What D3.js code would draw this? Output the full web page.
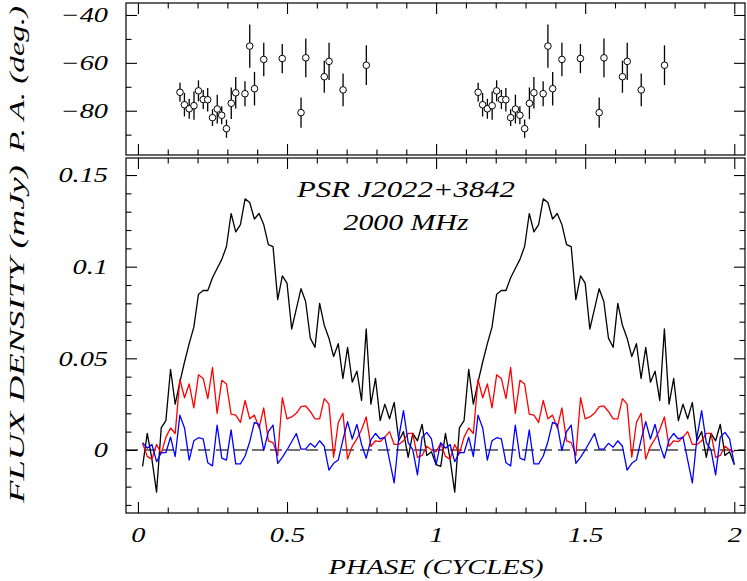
<!DOCTYPE html>
<html><head><meta charset="utf-8">
<script src="https://cdn.jsdelivr.net/npm/d3@7"></script>
<style>
body{margin:0;background:#fff}
svg{display:block}
text{font-family:"Liberation Serif",serif;font-style:italic;fill:#000}
</style>
</head><body>
<svg id="c" width="747" height="581"></svg>
<script>
// ---------------- data (one pulse period, 64 bins; plotted twice) ----------------
const binPhase = [0.0156,0.0313,0.0469,0.0625,0.0781,0.0938,0.1094,0.125,0.1406,0.1563,0.1719,0.1875,0.2031,0.2188,0.2344,0.25,
  0.2656,0.2813,0.2969,0.3125,0.3281,0.3438,0.3594,0.375,0.3906,0.4063,0.4219,0.4375,0.4531,0.4688,0.4844,0.5,
  0.5156,0.5313,0.5469,0.5625,0.5781,0.5938,0.6094,0.625,0.6406,0.6563,0.6719,0.6875,0.7031,0.7188,0.7344,0.75,
  0.7656,0.7813,0.7969,0.8125,0.8281,0.8438,0.8594,0.875,0.8906,0.9063,0.9219,0.9375,0.9531,0.9688,0.9844,1.0];
const totalI = [-0.009,0.009,-0.005,-0.023,0.012,0.016,0.044,0.025,0.037,0.048,0.058,0.067,0.085,0.087,0.087,0.094,
  0.099,0.104,0.111,0.129,0.119,0.123,0.137,0.135,0.126,0.129,0.123,0.112,0.111,0.082,0.095,0.091,
  0.066,0.077,0.088,0.081,0.061,0.056,0.080,0.068,0.061,0.051,0.058,0.039,0.056,0.037,0.043,0.027,
  0.066,0.025,0.039,0.016,0.025,0.017,0.026,0.005,0.010,-0.004,0.009,0.005,0.014,-0.003,-0.001,-0.008];
const linearL = [0.0036,-0.0035,-0.005,0.003,-0.002,0.007,0.012,0.009,0.0385,0.0285,0.036,0.023,0.041,0.039,0.028,0.045,
  0.020,0.038,0.036,0.0196,0.019,0.015,0.027,0.017,0.019,0.012,0.023,0.005,0.004,-0.003,0.0285,0.017,
  0.018,0.020,0.0236,0.024,0.021,0.017,0.017,0.028,0.025,-0.004,0.015,0.020,-0.005,0.002,0.006,0.011,
  0.018,0.002,0.005,0.0045,0.007,0.010,0.003,0.003,0.005,0.009,0.009,-0.004,-0.003,0.002,0.0,-0.001];
const circularV = [0.004,0.001,0.003,-0.0064,-0.0015,-0.0015,0.007,-0.0036,0.019,0.012,-0.0055,0.005,0.0067,0.006,-0.007,-0.0087,
  0.0136,-0.0045,-0.0055,0.011,-0.0076,-0.0076,-0.0033,0.0045,0.015,0.014,-0.0004,0.010,0.0136,-0.0073,-0.004,0.0,
  0.0045,0.009,0.0004,0.0004,0.0036,0.0015,0.005,0.002,-0.011,-0.0073,-0.0055,0.0055,0.0155,0.006,0.014,0.003,
  -0.0045,0.0055,0.009,0.006,0.007,-0.0055,-0.018,0.007,0.0215,0.004,0.0,-0.0136,0.007,0.0096,0.006,-0.008];
const paPhase = [0.141,0.156,0.172,0.188,0.203,0.219,0.234,0.25,0.266,0.281,0.297,0.313,0.328,0.359,0.375,0.391,0.422,0.484,0.547,0.563,0.625,0.641,0.688,0.766];
const paDeg = [-72.3,-77.5,-79.2,-77.9,-71.7,-75.3,-75.4,-82.9,-79.3,-81.9,-87.5,-76.9,-72.5,-72.9,-53.0,-70.8,-58.6,-58.2,-80.8,-57.9,-65.8,-59.4,-71.3,-61.0];
const paErr = [4.0,4.9,4.2,5.9,4.4,4.0,4.9,3.5,6.0,3.8,3.8,6.6,6.6,5.2,9.0,7.0,7.0,6.1,6.3,8.1,6.7,7.8,6.8,8.3];
const cycles = [0,1];

const xTicks = [0,0.5,1,1.5,2];
const xTickLabels = ["0","0.5","1","1.5","2"];
const xMinor = [0.1,0.2,0.3,0.4,0.6,0.7,0.8,0.9,1.1,1.2,1.3,1.4,1.6,1.7,1.8,1.9];
const fluxTicks = [0,0.05,0.1,0.15];
const fluxTickLabels = ["0","0.05","0.1","0.15"];
const fluxMinor = [-0.03,-0.02,-0.01,0.01,0.02,0.03,0.04,0.06,0.07,0.08,0.09,0.11,0.12,0.13,0.14];
const paTicks = [-80,-60,-40];
const paTickLabels = ["\u221280","\u221260","\u221240"];
const paMinor = [-90,-70,-50];
const titleLines = ["PSR J2022+3842","2000 MHz"];
const xTitle = "PHASE (CYCLES)";
const fluxTitle = "FLUX DENSITY (mJy)";
const paTitle = "P. A. (deg.)";

// ---------------- layout ----------------
const L=126, R=745, paTop=3, paBot=155, flTop=158, flBot=513;
const svg = d3.select("#c");
const x = d3.scaleLinear().domain([-0.04,2.036]).range([L,R]);
const yF = d3.scaleLinear().domain([-0.0344,0.1593]).range([flBot,flTop]);
const yP = d3.scaleLinear().domain([-98.5,-35]).range([paBot,paTop]);

// build two-cycle series
const prof = [];
cycles.forEach(c => binPhase.forEach((p,i) => prof.push({p:p+c, I:totalI[i], L:linearL[i], V:circularV[i]})));
const pa = [];
cycles.forEach(c => paPhase.forEach((p,i) => pa.push({p:p+c, v:paDeg[i], e:paErr[i]})));

const MAJ=11, MIN=5.5;
function styleAxis(g){ g.select(".domain").remove(); g.selectAll("line").attr("stroke","#000").attr("stroke-width",1.1);
  g.attr("font-family",null).attr("font-size",null); }

function panelAxes(y, top, bot, majY, labY, minY, showX){
  // x ticks bottom and top
  const fmtX = showX ? (d,i)=>xTickLabels[i] : ()=>"";
  svg.append("g").attr("transform",`translate(0,${bot})`)
    .call(d3.axisBottom(x).tickValues(xTicks).tickSize(-MAJ).tickPadding(14).tickFormat(fmtX)).call(styleAxis).attr("class","xl");
  svg.append("g").attr("transform",`translate(0,${bot})`)
    .call(d3.axisBottom(x).tickValues(xMinor).tickSize(-MIN).tickFormat("")).call(styleAxis);
  svg.append("g").attr("transform",`translate(0,${top})`)
    .call(d3.axisTop(x).tickValues(xTicks).tickSize(-MAJ).tickFormat("")).call(styleAxis);
  svg.append("g").attr("transform",`translate(0,${top})`)
    .call(d3.axisTop(x).tickValues(xMinor).tickSize(-MIN).tickFormat("")).call(styleAxis);
  // y ticks left and right
  svg.append("g").attr("transform",`translate(${L},0)`)
    .call(d3.axisLeft(y).tickValues(majY).tickSize(-MAJ).tickPadding(18).tickFormat((d,i)=>labY[i])).call(styleAxis).attr("class","yl");
  svg.append("g").attr("transform",`translate(${L},0)`)
    .call(d3.axisLeft(y).tickValues(minY).tickSize(-MIN).tickFormat("")).call(styleAxis);
  svg.append("g").attr("transform",`translate(${R},0)`)
    .call(d3.axisRight(y).tickValues(majY).tickSize(-MAJ).tickFormat("")).call(styleAxis);
  svg.append("g").attr("transform",`translate(${R},0)`)
    .call(d3.axisRight(y).tickValues(minY).tickSize(-MIN).tickFormat("")).call(styleAxis);
  svg.append("rect").attr("x",L).attr("y",top).attr("width",R-L).attr("height",bot-top)
    .attr("fill","none").attr("stroke","#000").attr("stroke-width",1.2);
}

// zero line
svg.append("line").attr("x1",L).attr("x2",R).attr("y1",yF(0)).attr("y2",yF(0))
  .attr("stroke","#444").attr("stroke-width",1.5).attr("stroke-dasharray","12,6");

// profiles
const mk = key => d3.line().x(d=>x(d.p)).y(d=>yF(d[key]));
[["I","#000"],["L","#ff0000"],["V","#0000ff"]].forEach(([k,c]) => {
  svg.append("path").datum(prof).attr("d",mk(k)).attr("fill","none").attr("stroke",c)
    .attr("stroke-width",1.3).attr("stroke-linejoin","round");
});

// PA points
const pg = svg.append("g");
pg.selectAll("line.err").data(pa).join("line").attr("class","err")
  .attr("x1",d=>x(d.p)).attr("x2",d=>x(d.p)).attr("y1",d=>yP(d.v-d.e)).attr("y2",d=>yP(d.v+d.e))
  .attr("stroke","#000").attr("stroke-width",1.3);
pg.selectAll("circle").data(pa).join("circle")
  .attr("cx",d=>x(d.p)).attr("cy",d=>yP(d.v)).attr("r",3.3)
  .attr("fill","#fff").attr("stroke","#000").attr("stroke-width",1);

panelAxes(yP, paTop, paBot, paTicks, paTickLabels, paMinor, false);
panelAxes(yF, flTop, flBot, fluxTicks, fluxTickLabels, fluxMinor, true);

// tick label styling
svg.selectAll(".xl text, .yl text").attr("font-size",21).attr("fill","#000")
  .each(function(){ const l=this.getComputedTextLength(); if(l>0){ this.setAttribute("textLength", l*1.35); this.setAttribute("lengthAdjust","spacingAndGlyphs"); } });

// texts
function txt(s, xx, yy, fs, len, rot){
  const t = svg.append("text").text(s).attr("font-size",fs).attr("text-anchor","middle")
    .attr("textLength",len).attr("lengthAdjust","spacingAndGlyphs");
  if(rot) t.attr("transform",`translate(${xx},${yy}) rotate(-90)`);
  else t.attr("x",xx).attr("y",yy);
  return t;
}
txt(titleLines[0], 406, 197, 24, 218);
txt(titleLines[1], 406, 230, 24, 125);
txt(xTitle, 436, 574, 22, 215);
txt(fluxTitle, 24, 334, 22, 338, true);
txt(paTitle, 24, 79, 22, 146, true);
</script>
</body></html>
